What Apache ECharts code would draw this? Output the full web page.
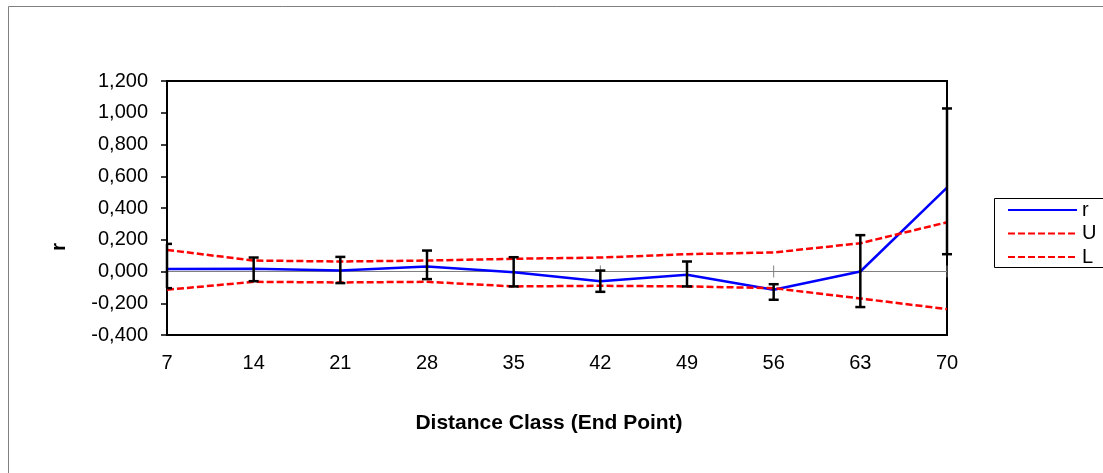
<!DOCTYPE html>
<html>
<head>
<meta charset="utf-8">
<script src="https://cdn.jsdelivr.net/npm/echarts@6/dist/echarts.min.js"></script>
<style>
  html, body { margin: 0; padding: 0; background: #ffffff; }
  #chart { width: 1103px; height: 473px; }
</style>
</head>
<body>
<div id="chart"></div>
<script>
// Distance classes (end point of each class)
const categories = ['7', '14', '21', '28', '35', '42', '49', '56', '63', '70'];
// Correlogram r and its upper / lower confidence limits
const rValues = [0.015, 0.017, 0.006, 0.031, -0.004, -0.061, -0.021, -0.115, 0.0, 0.528];
const uValues = [0.136, 0.069, 0.063, 0.069, 0.080, 0.088, 0.109, 0.120, 0.178, 0.310];
const lValues = [-0.115, -0.065, -0.069, -0.065, -0.094, -0.090, -0.094, -0.105, -0.170, -0.237];
// Error bar ends for r
const errHigh = [0.174, 0.088, 0.092, 0.132, 0.090, 0.006, 0.063, -0.080, 0.229, 1.027];
const errLow = [-0.105, -0.061, -0.073, -0.048, -0.094, -0.128, -0.094, -0.178, -0.224, 0.109];
// Y-axis range
const yMin = -0.4, yMax = 1.2, yStep = 0.2;

const FONT = '"Liberation Sans", Arial, sans-serif';
const LABEL_SIZE = 20;
const TITLE_SIZE = 21;
const LINE_W = 2.5;
const chart = echarts.init(document.getElementById('chart'), null, { renderer: 'canvas' });

const errData = categories.map((c, i) => [i, errLow[i], errHigh[i]]);
const zeroData = categories.map((c, i) => [i, 0]);

const option = {
  backgroundColor: '#ffffff',
  animation: false,
  textStyle: { fontFamily: FONT },
  grid: {
    left: 167, top: 81, width: 780, height: 254,
    show: true, borderColor: '#000000', borderWidth: 2, backgroundColor: 'transparent'
  },
  xAxis: {
    type: 'category',
    data: categories,
    boundaryGap: false,
    axisLine: { onZero: false, lineStyle: { color: '#000000', width: 2 } },
    axisTick: { show: false },
    axisLabel: { color: '#000000', fontSize: LABEL_SIZE, fontFamily: FONT, margin: 18 },
    splitLine: { show: false }
  },
  yAxis: {
    type: 'value',
    min: yMin, max: yMax, interval: yStep,
    axisLine: { show: true, lineStyle: { color: '#000000', width: 2 } },
    axisTick: { show: true, length: 6, lineStyle: { color: '#000000', width: 1.5 } },
    axisLabel: {
      color: '#000000', fontSize: LABEL_SIZE, fontFamily: FONT, margin: 19,
      formatter: v => (Math.abs(v) < 1e-9 ? 0 : v).toFixed(3).replace('.', ',')
    },
    splitLine: { show: false }
  },
  legend: {
    data: ['r', 'U', 'L'],
    orient: 'vertical',
    left: 1007, top: 200,
    padding: 0,
    itemWidth: 69, itemHeight: 20, itemGap: 3.5,
    itemStyle: { color: 'rgba(0,0,0,0)', borderWidth: 0 },
    textStyle: { color: '#000000', fontSize: LABEL_SIZE, fontFamily: FONT }
  },
  series: [
    {
      // category axis drawn across the zero level with cross ticks
      name: 'zero', type: 'custom', silent: true, z: 1,
      data: zeroData,
      renderItem: (params, api) => {
        const p = api.coord([api.value(0), 0]);
        const cs = params.coordSys;
        const children = [{
          type: 'line',
          shape: { x1: p[0], y1: p[1] - 6, x2: p[0], y2: p[1] + 6 },
          style: { stroke: '#808080', lineWidth: 1 }
        }];
        if (params.dataIndex === 0) {
          children.push({
            type: 'line',
            shape: { x1: cs.x, y1: p[1], x2: cs.x + cs.width, y2: p[1] },
            style: { stroke: '#808080', lineWidth: 1 }
          });
        }
        return { type: 'group', children };
      }
    },
    {
      name: 'r', type: 'line', data: rValues, symbol: 'none', z: 3,
      lineStyle: { color: '#0000ff', width: LINE_W }, itemStyle: { color: '#0000ff' }
    },
    {
      name: 'U', type: 'line', data: uValues, symbol: 'none', z: 4,
      lineStyle: { color: '#ff0000', width: LINE_W, type: [7, 3] }, itemStyle: { color: '#ff0000' }
    },
    {
      name: 'L', type: 'line', data: lValues, symbol: 'none', z: 4,
      lineStyle: { color: '#ff0000', width: LINE_W, type: [7, 3] }, itemStyle: { color: '#ff0000' }
    },
    {
      // error bars of r
      name: 'err', type: 'custom', silent: true, z: 5, clip: false,
      data: errData,
      renderItem: (params, api) => {
        const lo = api.coord([api.value(0), api.value(1)]);
        const hi = api.coord([api.value(0), api.value(2)]);
        const cs = params.coordSys;
        const half = 5;
        const left = Math.max(lo[0] - half, cs.x);
        const right = lo[0] + half;
        const st = { stroke: '#000000', lineWidth: 2.5 };
        return {
          type: 'group',
          children: [
            { type: 'line', shape: { x1: hi[0], y1: hi[1], x2: lo[0], y2: lo[1] }, style: st },
            { type: 'line', shape: { x1: left, y1: hi[1], x2: right, y2: hi[1] }, style: st },
            { type: 'line', shape: { x1: left, y1: lo[1], x2: right, y2: lo[1] }, style: st }
          ]
        };
      }
    }
  ],
  graphic: [
    {
      type: 'rect', silent: true, z: 0,
      shape: { x: 8.5, y: 6.5, width: 1300, height: 700 },
      style: { fill: 'none', stroke: '#808080', lineWidth: 1 }
    },
    {
      type: 'rect', silent: true, z: 0,
      shape: { x: 994.5, y: 198.5, width: 200, height: 69 },
      style: { fill: '#ffffff', stroke: '#000000', lineWidth: 1 }
    },
    {
      type: 'text', silent: true,
      x: 59, y: 247, rotation: Math.PI / 2,
      style: {
        text: 'r', fill: '#000000', font: 'bold ' + TITLE_SIZE + 'px ' + FONT,
        align: 'center', verticalAlign: 'middle'
      }
    },
    {
      type: 'text', silent: true,
      x: 549, y: 423,
      style: {
        text: 'Distance Class (End Point)', fill: '#000000', font: 'bold ' + TITLE_SIZE + 'px ' + FONT,
        align: 'center', verticalAlign: 'middle'
      }
    }
  ]
};

chart.setOption(option);
</script>
</body>
</html>
